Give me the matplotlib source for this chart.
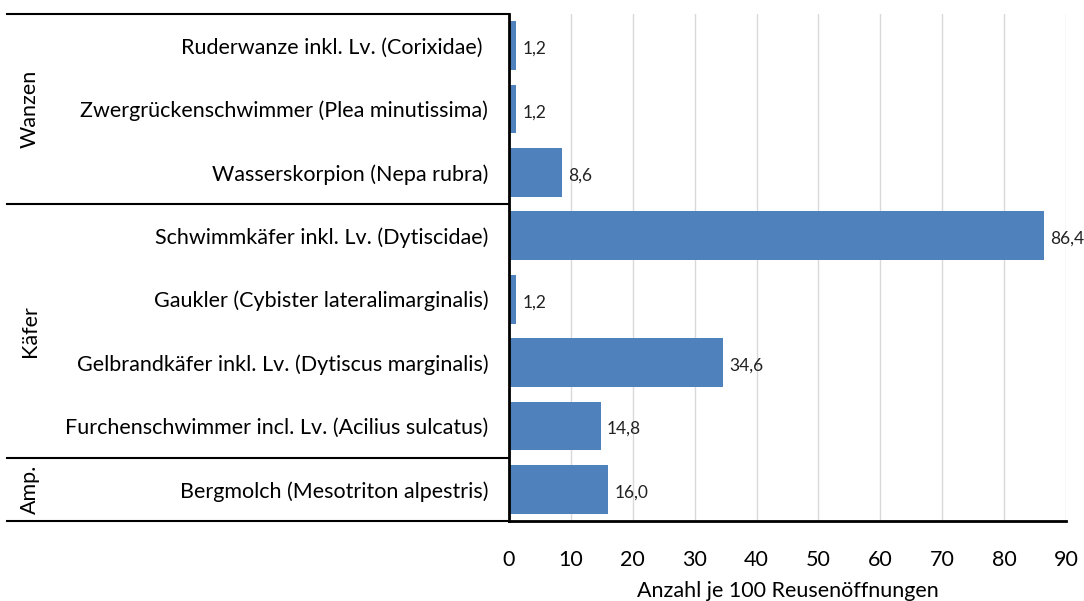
import matplotlib.pyplot as plt
import matplotlib.transforms as mtransforms

plt.rcParams['font.family'] = ['Lato', 'DejaVu Sans']

species = [
    "Ruderwanze inkl. Lv. (Corixidae) ",
    "Zwergrückenschwimmer (Plea minutissima)",
    "Wasserskorpion (Nepa rubra)",
    "Schwimmkäfer inkl. Lv. (Dytiscidae)",
    "Gaukler (Cybister lateralimarginalis)",
    "Gelbrandkäfer inkl. Lv. (Dytiscus marginalis)",
    "Furchenschwimmer incl. Lv. (Acilius sulcatus)",
    "Bergmolch (Mesotriton alpestris)",
]
values = [1.2, 1.2, 8.6, 86.4, 1.2, 34.6, 14.8, 16.0]
groups = ["Wanzen", "Käfer", "Amp."]
group_sizes = [3, 4, 1]
xticks = [0, 10, 20, 30, 40, 50, 60, 70, 80, 90]

fig = plt.figure(figsize=(10.84, 6.01), dpi=100)
W, H = 1084, 601
ax = fig.add_axes([509 / W, (H - 521) / H, (1066 - 509) / W, 507 / H])

ypos = list(range(len(species)))
ax.barh(ypos, values, height=0.77, color="#4F81BD", zorder=3)
for y, v in zip(ypos, values):
    ax.text(v + 1.0, y + 0.05, f"{v:.1f}".replace(".", ","), va="center", ha="left",
            fontsize=12.5, color="#222222")

ax.set_xlim(0, 90)
ax.set_ylim(len(species) - 0.5, -0.5)
ax.set_xticks(xticks)
ax.set_yticks(ypos)
ax.set_yticklabels(species, fontsize=15.5)
ax.tick_params(axis="y", length=0, pad=15)
ax.tick_params(axis="x", length=0, pad=21, labelsize=15.5)
ax.set_xlabel("Anzahl je 100 Reusenöffnungen", fontsize=15.5, labelpad=8)
ax.grid(axis="x", color="#D9D9D9", linewidth=1, zorder=0)
for s in ["top", "right"]:
    ax.spines[s].set_visible(False)
ax.spines["left"].set_linewidth(2)
ax.spines["bottom"].set_linewidth(2)
ax.spines["left"].set_zorder(4)

# group separators to the left of the axis
trans = mtransforms.blended_transform_factory(ax.transAxes, ax.transData)
x_left = (7 - 509) / (1066 - 509)
bounds = [-0.5]
for n in group_sizes:
    bounds.append(bounds[-1] + n)
for b in bounds:
    ax.plot([x_left, 0], [b, b], color="black", linewidth=1.5, transform=trans, clip_on=False)
for g, lo, hi in zip(groups, bounds[:-1], bounds[1:]):
    ax.text((30 - 509) / (1066 - 509), (lo + hi) / 2, g, rotation=90, ha="center", va="center",
            fontsize=15.5, transform=trans)

fig.savefig("out.png", dpi=100)
